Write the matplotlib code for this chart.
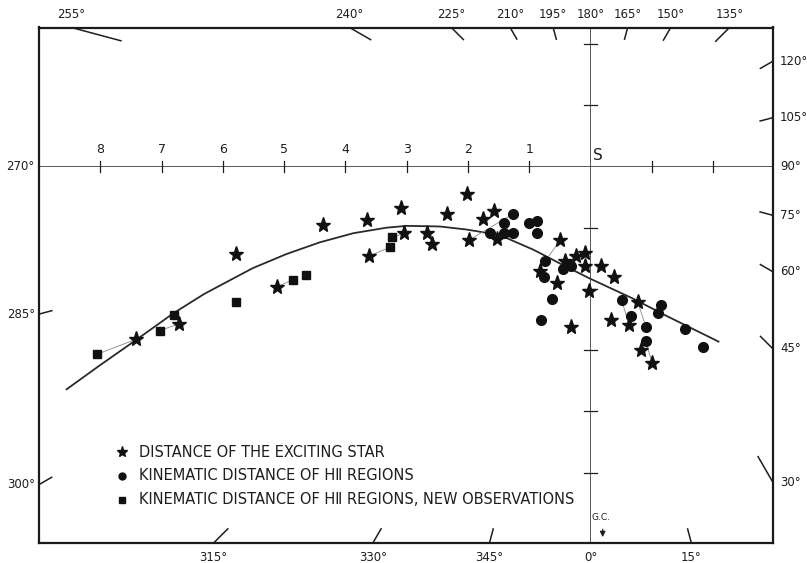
import numpy as np
import matplotlib
matplotlib.use("Agg")
import matplotlib.pyplot as plt

plt.rcParams['font.family'] = ['DejaVu Sans']

# ---- data (kpc, Sun at origin; +x toward l=90°, +y toward l=180°) ----
star_x = [-7.41, -6.71, -5.79, -5.12, -4.36, -3.65, -3.61, -3.09, -3.04, -2.66, -2.58,
          -2.34, -2.02, -1.98, -1.76, -1.57, -1.53, -0.49, -0.82, -0.41, -0.24, -0.09,
          -0.09, 0.17, 0.38, -0.54, -0.03, -0.31, 0.33, 0.77, 0.63, 0.82, 1.01]
star_y = [-2.82, -2.57, -1.43, -1.97, -0.96, -0.88, -1.46, -0.68, -1.09, -1.09, -1.27,
          -0.78, -0.45, -1.20, -0.86, -0.72, -1.18, -1.20, -1.70, -1.54, -1.47, -1.41,
          -1.62, -1.62, -1.81, -1.91, -2.04, -2.62, -2.51, -2.21, -2.59, -2.99, -3.21]

circ_x = [-1.64, -1.41, -1.41, -1.27, -1.27, -1.01, -0.87, -0.87, -0.74, -0.75, -0.44,
          -0.31, -0.62, -0.80, 0.51, 0.67, 0.91, 0.90, 1.15, 1.10, 1.54, 1.83]
circ_y = [-1.09, -0.92, -1.09, -0.78, -1.09, -0.93, -0.89, -1.09, -1.55, -1.81, -1.68,
          -1.62, -2.16, -2.51, -2.18, -2.45, -2.63, -2.85, -2.26, -2.39, -2.65, -2.95]

sq_x = [-8.06, -7.03, -6.80, -5.78, -4.86, -4.64, -3.27, -3.24]
sq_y = [-3.07, -2.68, -2.43, -2.21, -1.85, -1.77, -1.32, -1.16]

# pairs of the same object (kind, index) joined by a thin line
links = [(("sq", 0), ("star", 0)), (("sq", 1), ("star", 1)), (("star", 3), ("sq", 4)),
         (("star", 6), ("sq", 6)), (("sq", 7), ("star", 8)), (("star", 13), ("circ", 3)),
         (("star", 17), ("circ", 8)), (("circ", 14), ("star", 30)),
         (("star", 29), ("circ", 16)), (("circ", 17), ("star", 32))]

curve_x = [-8.55, -8.01, -7.41, -6.81, -6.30, -5.83, -5.51, -4.96, -4.42, -3.87,
           -3.33, -3.00, -2.46, -2.02, -1.48, -0.93, -0.39, -0.01, 0.70, 1.24, 2.09]
curve_y = [-3.64, -3.25, -2.83, -2.40, -2.08, -1.83, -1.66, -1.43, -1.24, -1.09,
           -1.00, -0.97, -0.98, -1.03, -1.12, -1.36, -1.64, -1.83, -2.16, -2.44, -2.86]

lon_labels = [255, 240, 225, 210, 195, 180, 165, 150, 135, 120, 105, 90, 75, 60, 45,
              30, 15, 0, 345, 330, 315, 300, 285, 270]
lon_tick_len = {255: 0.85, 240: 0.41, 225: 0.29, 210: 0.23, 195: 0.21, 165: 0.21,
                150: 0.25, 135: 0.33, 120: 0.25, 105: 0.23, 75: 0.23, 60: 0.25,
                45: 0.30, 30: 0.50, 15: 0.25, 345: 0.25, 330: 0.28, 315: 0.34,
                300: 0.25, 285: 0.23}

dist_ticks = [-8, -7, -6, -5, -4, -3, -2, -1, 1, 2]
dist_labels = ["8", "7", "6", "5", "4", "3", "2", "1", "", ""]
vert_ticks = [2, 1, -1, -2, -3, -4, -5]

legend_labels = ["DISTANCE OF THE EXCITING STAR",
                 "KINEMATIC DISTANCE OF H\u2161 REGIONS",
                 "KINEMATIC DISTANCE OF H\u2161 REGIONS, NEW OBSERVATIONS"]

XMIN, XMAX, YMIN, YMAX = -9.0, 2.98, -6.15, 2.27

fig = plt.figure(figsize=(8.07, 5.63), dpi=100)
ax = fig.add_axes([39 / 807, 20 / 563, 734 / 807, 515.5 / 563])
ax.set_xlim(XMIN, XMAX)
ax.set_ylim(YMIN, YMAX)
ax.set_xticks([])
ax.set_yticks([])
for s in ax.spines.values():
    s.set_linewidth(1.6)
    s.set_color("#1a1a1a")

ink = "#1e1e1e"
thin = "#555555"

# reference lines through the Sun
ax.plot([XMIN, XMAX], [0, 0], color=thin, lw=0.7)
ax.plot([0, 0], [YMIN, YMAX], color=thin, lw=0.7)
for t, lab in zip(dist_ticks, dist_labels):
    ax.plot([t, t], [-0.09, 0.09], color=ink, lw=0.9)
    if lab:
        ax.text(t, 0.17, lab, ha="center", va="bottom", fontsize=9, color=ink)
for t in vert_ticks:
    ax.plot([-0.1, 0.1], [t, t], color=ink, lw=0.9)
ax.text(0.04, 0.05, "S", ha="left", va="bottom", fontsize=11, color=ink)

# longitude marks on the frame
def border_hit(l):
    d = np.array([np.sin(np.radians(l)), -np.cos(np.radians(l))])
    ts = []
    if d[0] > 1e-9: ts.append((XMAX / d[0], "right"))
    if d[0] < -1e-9: ts.append((XMIN / d[0], "left"))
    if d[1] > 1e-9: ts.append((YMAX / d[1], "top"))
    if d[1] < -1e-9: ts.append((YMIN / d[1], "bottom"))
    t, side = min(ts, key=lambda a: a[0])
    return t * d, d, side

for l in lon_labels:
    p, d, side = border_hit(l)
    if l in lon_tick_len:
        q = p - d * lon_tick_len[l]
        ax.plot([p[0], q[0]], [p[1], q[1]], color=ink, lw=1.1, solid_capstyle="butt")
    txt = f"{l}°"
    if side == "top":
        ax.annotate(txt, p, xytext=(0, 5), textcoords="offset points", ha="center",
                    va="bottom", fontsize=8.5, color=ink, annotation_clip=False)
    elif side == "bottom":
        ax.annotate(txt, p, xytext=(0, -6), textcoords="offset points", ha="center",
                    va="top", fontsize=8.5, color=ink, annotation_clip=False)
    elif side == "left":
        ax.annotate(txt, p, xytext=(-3, 0), textcoords="offset points", ha="right",
                    va="center", fontsize=8.5, color=ink, annotation_clip=False)
    else:
        ax.annotate(txt, p, xytext=(5, 0), textcoords="offset points", ha="left",
                    va="center", fontsize=8.5, color=ink, annotation_clip=False)

# spiral arm curve
ax.plot(curve_x, curve_y, color="#2a2a2a", lw=1.3, solid_joinstyle="round")

# links between alternate distances of the same object
pts = {"star": (star_x, star_y), "circ": (circ_x, circ_y), "sq": (sq_x, sq_y)}
for (k1, i1), (k2, i2) in links:
    ax.plot([pts[k1][0][i1], pts[k2][0][i2]], [pts[k1][1][i1], pts[k2][1][i2]],
            color="#888888", lw=0.6, zorder=2)

ax.plot(star_x, star_y, ls="none", marker="*", ms=11, color="#111111", zorder=3)
ax.plot(circ_x, circ_y, ls="none", marker="o", ms=7, color="#111111", zorder=3)
ax.plot(sq_x, sq_y, ls="none", marker="s", ms=6, color="#111111", zorder=3)

# Galactic centre arrow
ax.annotate("", xy=(0.2, -6.1), xytext=(0.2, -5.88),
            arrowprops=dict(arrowstyle="-|>", color=ink, lw=0.9, mutation_scale=8))
ax.text(0.18, -5.8, "G.C.", ha="center", va="bottom", fontsize=6.5, color=ink)

# legend
leg_markers = [("*", 8), ("o", 5), ("s", 4.5)]
leg_y = [-4.67, -5.05, -5.44]
for (m, ms), y, lab in zip(leg_markers, leg_y, legend_labels):
    ax.plot([-7.65], [y], marker=m, ms=ms, color="#111111", ls="none")
    ax.text(-7.37, y, lab, ha="left", va="center", fontsize=10.5, color=ink)

fig.savefig("out.png", dpi=100, facecolor="white")
